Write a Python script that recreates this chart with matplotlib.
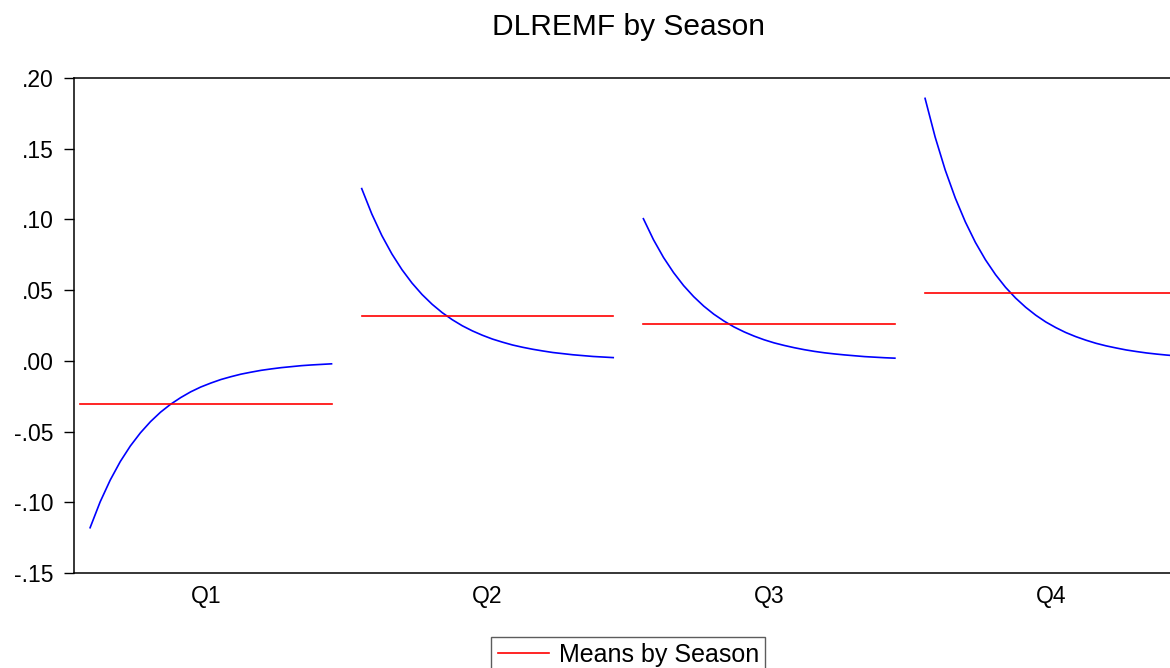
import matplotlib
matplotlib.use("Agg")
import matplotlib.pyplot as plt
from matplotlib.lines import Line2D
from matplotlib.ticker import FuncFormatter

plt.rcParams['font.family'] = ['Liberation Sans', 'DejaVu Sans']

# data
seasons = ['Q1', 'Q2', 'Q3', 'Q4']
q1_vals = [None, -0.1180, -0.0997, -0.0843, -0.0712, -0.0602, -0.0509, -0.0430, -0.0363,
           -0.0307, -0.0260, -0.0219, -0.0185, -0.0157, -0.0132, -0.0112, -0.0094,
           -0.0080, -0.0067, -0.0057, -0.0048, -0.0041, -0.0034, -0.0029, -0.0025, -0.0021]
q2_vals = [0.1218, 0.1039, 0.0886, 0.0756, 0.0645, 0.0550, 0.0469, 0.0400, 0.0341,
           0.0291, 0.0248, 0.0212, 0.0181, 0.0154, 0.0132, 0.0112, 0.0096, 0.0082,
           0.0070, 0.0059, 0.0051, 0.0043, 0.0037, 0.0031, 0.0027, 0.0023]
q3_vals = [0.1005, 0.0857, 0.0731, 0.0624, 0.0532, 0.0454, 0.0387, 0.0330, 0.0282,
           0.0240, 0.0205, 0.0175, 0.0149, 0.0127, 0.0109, 0.0093, 0.0079, 0.0067,
           0.0057, 0.0049, 0.0042, 0.0036, 0.0030, 0.0026, 0.0022, 0.0019]
q4_vals = [0.1856, 0.1583, 0.1350, 0.1152, 0.0983, 0.0838, 0.0715, 0.0610, 0.0520,
           0.0444, 0.0379, 0.0323, 0.0275, 0.0235, 0.0200, 0.0171, 0.0146, 0.0124,
           0.0106, 0.0091, 0.0077, 0.0066, 0.0056, 0.0048, 0.0041, 0.0035]
season_means = [-0.0307, 0.0317, 0.0260, 0.0478]
series = [q1_vals, q2_vals, q3_vals, q4_vals]

n_obs = 26
slot = 28  # obs per season + gap

fig = plt.figure(figsize=(11.7, 6.68), dpi=100)
ax = fig.add_axes([74 / 1170, 95 / 668, 1108.6 / 1170, 495 / 668])

for k, vals in enumerate(series):
    xs = [k * slot + i for i, v in enumerate(vals) if v is not None]
    ys = [v for v in vals if v is not None]
    ax.plot(xs, ys, color='#0000ff', lw=1.2)
    ax.plot([k * slot, k * slot + n_obs - 1], [season_means[k]] * 2, color='#ff0000', lw=1.2)

ax.set_xlim(-0.6, 3 * slot + n_obs - 1 + 0.6)
ax.set_ylim(-0.15, 0.20)
ax.set_yticks([-0.15, -0.10, -0.05, 0.00, 0.05, 0.10, 0.15, 0.20])


def fmt(v, pos):
    s = f"{abs(v):.2f}"[1:]
    return '-' + s if v < -1e-9 else s


ax.yaxis.set_major_formatter(FuncFormatter(fmt))
ax.set_xticks([k * slot + (n_obs - 1) / 2 for k in range(4)])
ax.set_xticklabels(seasons)
ax.tick_params(axis='x', length=0, pad=9, labelsize=16.5)
ax.tick_params(axis='y', direction='out', length=7.5, width=1, pad=7, labelsize=16.5)
for sp in ax.spines.values():
    sp.set_linewidth(1.1)

fig.text(628 / 1170, 1 - 27 / 668, 'DLREMF by Season', ha='center', va='center', fontsize=21.5)

handle = Line2D([], [], color='#ff0000', lw=1.2)
leg = ax.legend([handle], ['Means by Season'], loc='upper center',
                bbox_to_anchor=(0.5, -0.1287), borderaxespad=0, fontsize=18,
                frameon=True, fancybox=False, handlelength=2.05, handletextpad=0.4,
                borderpad=0.25)
leg.get_frame().set_edgecolor('#333333')
leg.get_frame().set_linewidth(1.0)

fig.savefig('out.png', dpi=100)
